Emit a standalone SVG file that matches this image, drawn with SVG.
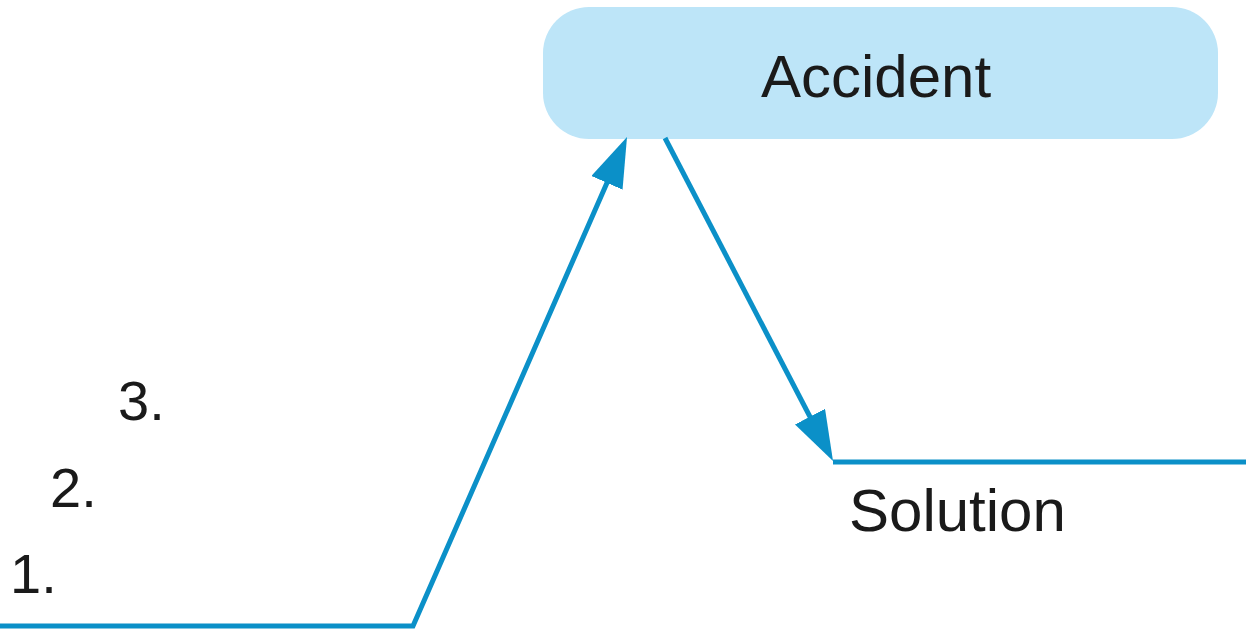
<svg xmlns="http://www.w3.org/2000/svg" width="1246" height="629" viewBox="0 0 1246 629">
<style>
.ln{fill:none;stroke:#0b90c8;stroke-width:5}
.t{font-family:"Liberation Sans",Arial,sans-serif;font-size:56px;fill:#1a1a1a}
.big{font-size:60px}
</style>
<defs>
<marker id="ah" markerUnits="userSpaceOnUse" viewBox="0 -17 50 34" markerWidth="50" markerHeight="34" refX="40" refY="0" orient="auto">
<path d="M0,-17 L50,0 L0,17 z" fill="#0b90c8"/>
</marker>
</defs>
<rect width="1246" height="629" fill="#fff"/>
<g id="accident">
<rect x="543" y="7" width="675" height="132" rx="46" ry="46" fill="#bde5f8"/>
<text class="t big" x="876" y="97" text-anchor="middle">Accident</text>
</g>
<g id="solution">
<text class="t big" x="849" y="531">Solution</text>
</g>
<g id="labels">
<text class="t" x="10" y="593">1.</text>
<text class="t" x="50" y="507">2.</text>
<text class="t" x="118" y="420">3.</text>
</g>
<g id="connectors">
<path class="ln" d="M0,626 H413 L623,146.2" marker-end="url(#ah)"/>
<path class="ln" d="M665,138 L828.4,452.1" marker-end="url(#ah)"/>
<path class="ln" d="M833,462 H1246"/>
</g>
</svg>
